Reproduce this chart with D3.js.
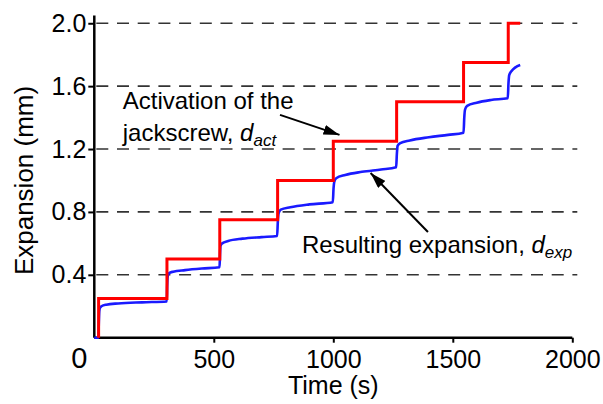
<!DOCTYPE html>
<html>
<head>
<meta charset="utf-8">
<script src="https://cdn.jsdelivr.net/npm/d3@7"></script>
<style>
  body { margin: 0; background: #fff; }
  text { font-family: "Liberation Sans", Arial, sans-serif; fill: #000; }
</style>
</head>
<body>
<script>

const W = 603;
const H = 404;

// axis ticks
const xTicks = [500, 1000, 1500, 2000];
const yTicks = [0.4, 0.8, 1.2, 1.6, 2.0];

// activation of the jackscrew (step line)
const actTime  = [18, 18, 304, 525, 767, 1000, 1265, 1545, 1732, 1782];
const actValue = [0, 0.25, 0.5, 0.75, 1.0, 1.25, 1.5, 1.75, 2.0, 2.0];

// resulting expansion (measured)
const expTime = [0, 17, 19, 21, 24, 30, 50, 100, 200, 303,
  305, 307, 312, 330, 380, 450, 524,
  526, 528, 535, 560, 620, 700, 765,
  768, 771, 780, 820, 900, 998,
  1001, 1004, 1012, 1050, 1120, 1200, 1263,
  1266, 1269, 1280, 1320, 1400, 1480, 1545,
  1548, 1551, 1560, 1600, 1660, 1730,
  1733, 1736, 1745, 1782];
const expValue = [0, 0, 0.10, 0.17, 0.19, 0.20, 0.21, 0.218, 0.225, 0.23,
  0.33, 0.39, 0.41, 0.42, 0.43, 0.44, 0.448,
  0.53, 0.585, 0.60, 0.615, 0.63, 0.64, 0.647,
  0.74, 0.79, 0.815, 0.83, 0.848, 0.862,
  0.95, 0.99, 1.014, 1.035, 1.055, 1.07, 1.084,
  1.17, 1.22, 1.237, 1.255, 1.275, 1.29, 1.304,
  1.40, 1.45, 1.475, 1.495, 1.512, 1.523,
  1.62, 1.67, 1.695, 1.735];

const svg = d3.select("body")
.append("svg")
.attr("width", W)
.attr("height", H);

const xScale = d3.scaleLinear()
.domain([0, 2000])
.range([94.3, 572.3]);

const yScale = d3.scaleLinear()
.domain([0, 2.05])
.range([337.7, 15.4]);

// dashed grid lines
svg.append("g")
.selectAll("line")
.data(yTicks)
.enter()
.append("line")
.attr("x1", xScale(0) + 2)
.attr("x2", xScale(2000) + 5)
.attr("y1", d => yScale(d))
.attr("y2", d => yScale(d))
.attr("stroke", "#333")
.attr("stroke-width", 1.6)
.attr("stroke-dasharray", "12,8.7");

const xAxis = d3.axisBottom(xScale)
.tickValues(xTicks)
.tickSize(5)
.tickPadding(8)
.tickFormat(d3.format("d"));

const yAxis = d3.axisLeft(yScale)
.tickValues(yTicks)
.tickSize(6)
.tickPadding(2)
.tickFormat(d3.format(".1f"));

const gx = svg.append("g")
.attr("transform", `translate(0,${yScale(0)})`)
.call(xAxis);

const gy = svg.append("g")
.attr("transform", `translate(${xScale(0)},0)`)
.call(yAxis);

[gx, gy].forEach(g => {
  g.select(".domain").attr("stroke", "#000").attr("stroke-width", 2.5);
  g.selectAll(".tick line").attr("stroke", "#000").attr("stroke-width", 2);
  g.selectAll(".tick text")
  .style("font-size", "25px")
  .style("font-family", "Liberation Sans, Arial, sans-serif")
  .attr("fill", "#000");
});
gx.select(".domain").attr("d", `M${xScale(0)},0H${xScale(2000)}`);
gy.select(".domain").attr("d", `M0,${yScale(2.05)}V${yScale(0)}`);

// shared origin label
svg.append("text")
.text("0")
.attr("x", xScale(0) - 15)
.attr("y", yScale(0) + 30)
.attr("text-anchor", "middle")
.style("font-size", "29px");

// lines
const line = d3.line()
.x(d => xScale(d[0]))
.y(d => yScale(d[1]));

svg.append("path")
.datum(d3.zip(expTime, expValue))
.attr("d", line.curve(d3.curveMonotoneX))
.attr("fill", "none")
.attr("stroke", "#1a1aff")
.attr("stroke-width", 2.6);

svg.append("path")
.datum(d3.zip(actTime, actValue))
.attr("d", line.curve(d3.curveStepAfter))
.attr("fill", "none")
.attr("stroke", "#ff0000")
.attr("stroke-width", 3);

// axis titles
svg.append("text")
.text("Time (s)")
.attr("x", (xScale(0) + xScale(2000)) / 2)
.attr("y", 394)
.attr("text-anchor", "middle")
.style("font-size", "25px");

svg.append("text")
.text("Expansion (mm)")
.attr("transform", `translate(33, ${(yScale(0) + yScale(2.0)) / 2}) rotate(-90)`)
.attr("text-anchor", "middle")
.style("font-size", "26px");

// annotations
svg.append("defs")
.append("marker")
.attr("id", "head")
.attr("markerUnits", "userSpaceOnUse")
.attr("viewBox", "0 0 16 10")
.attr("refX", 16)
.attr("refY", 5)
.attr("markerWidth", 16)
.attr("markerHeight", 10)
.attr("orient", "auto")
.append("path")
.attr("d", "M0,0L16,5L0,10Z")
.attr("fill", "#000");

const arrows = [
  [[777, 1.417], [1026, 1.29]],
  [[1396, 0.672], [1156, 1.048]]
];

svg.selectAll(".arrow")
.data(arrows)
.enter()
.append("line")
.attr("class", "arrow")
.attr("x1", d => xScale(d[0][0]))
.attr("y1", d => yScale(d[0][1]))
.attr("x2", d => xScale(d[1][0]))
.attr("y2", d => yScale(d[1][1]))
.attr("stroke", "#000")
.attr("stroke-width", 2)
.attr("marker-end", "url(#head)");

const act = svg.append("g").style("font-size", "24px");
act.append("text")
.text("Activation of the")
.attr("x", xScale(119))
.attr("y", yScale(1.453));
const act2 = act.append("text")
.attr("x", xScale(119))
.attr("y", yScale(1.251));
act2.append("tspan").text("jackscrew, ");
act2.append("tspan").text("d").style("font-style", "italic");
act2.append("tspan").text("act").style("font-style", "italic")
.style("font-size", "17px").attr("dy", 5);

const exp = svg.append("text")
.attr("x", xScale(869))
.attr("y", yScale(0.539))
.style("font-size", "24px");
exp.append("tspan").text("Resulting expansion, ");
exp.append("tspan").text("d").style("font-style", "italic");
exp.append("tspan").text("exp").style("font-style", "italic")
.style("font-size", "17px").attr("dy", 5);

</script>
</body>
</html>
